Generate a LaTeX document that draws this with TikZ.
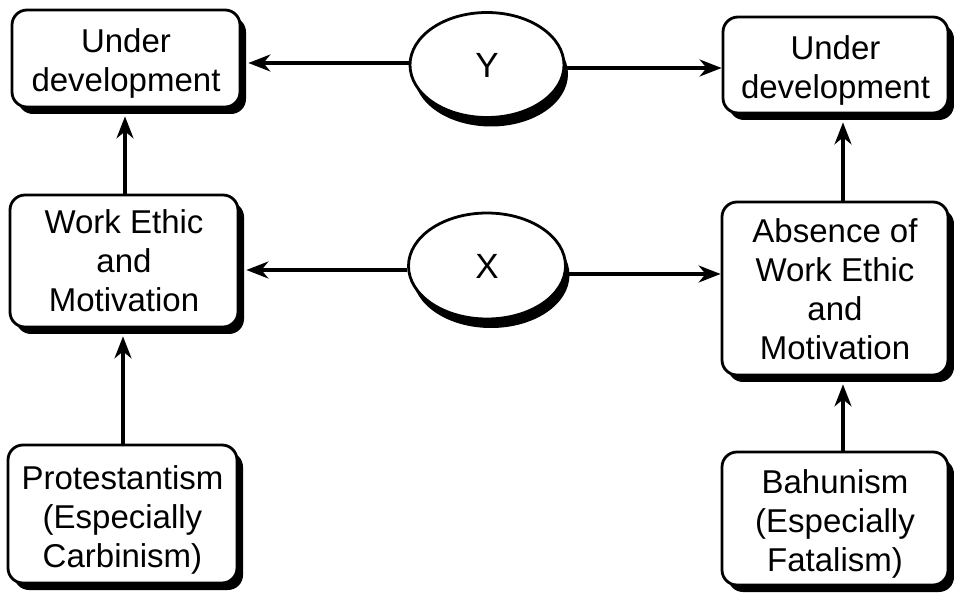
\documentclass[tikz,border=0pt]{standalone}
\usepackage{fontspec}
\setmainfont{Liberation Sans}
\usetikzlibrary{arrows.meta,shadows,shapes.geometric}
\newcommand{\lowtext}[2][6pt]{\raisebox{-#1}[\height][\depth]{\begin{tabular}{@{}c@{}}#2\end{tabular}}}
\begin{document}
\begin{tikzpicture}[x=1pt,y=-1pt,
  box/.style={draw=black,line width=2.8pt,fill=white,rounded corners=15pt,
    inner sep=0pt,align=center,font=\fontsize{33}{39}\selectfont,
    drop shadow={shadow xshift=6pt,shadow yshift=-7pt,fill=black,opacity=1}},
  oval/.style={ellipse,draw=black,line width=2.8pt,fill=white,inner sep=0pt,
    font=\fontsize{35}{40}\selectfont,
    drop shadow={shadow xshift=4pt,shadow yshift=-9pt,fill=black,opacity=1}},
  arr/.style={line width=3.2pt,-{Stealth[length=22pt,width=17pt,inset=7pt]}}]
\useasboundingbox (0,0) rectangle (954,593);
\node[box,minimum width=228pt,minimum height=97pt] (ul) at (126,58.5) {\lowtext{Under\\development}};
\node[box,minimum width=225pt,minimum height=96pt] (ur) at (835.5,65) {\lowtext{Under\\development}};
\node[box,minimum width=228pt,minimum height=132pt] (we) at (124,261) {\lowtext[4pt]{Work Ethic\\and\\Motivation}};
\node[box,minimum width=226pt,minimum height=173pt] (ab) at (835,288.5) {\lowtext[5pt]{Absence of\\Work Ethic\\and\\Motivation}};
\node[box,minimum width=229pt,minimum height=138pt] (pr) at (122.5,514) {\lowtext[7pt]{Protestantism\\(Especially\\Carbinism)}};
\node[box,minimum width=226pt,minimum height=133pt] (ba) at (835,518.5) {\lowtext[6pt]{Bahunism\\(Especially\\Fatalism)}};
\node[oval,minimum width=154pt,minimum height=105pt] (y) at (487,65) {Y};
\node[oval,minimum width=157pt,minimum height=106pt] (x) at (487,266) {X};
% horizontal arrows
\draw[arr,shorten >=7pt] (y.west |- 0,63) -- (ul.east |- 0,63);
\draw[arr] (y.east |- 0,68) -- (ur.west |- 0,68);
\draw[arr,shorten >=7pt] (x.west |- 0,270) -- (we.east |- 0,270);
\draw[arr] (x.east |- 0,274) -- (ab.west |- 0,274);
% vertical arrows
\draw[arr,shorten >=8pt] (we.north -| 125,0) -- (ul.south -| 125,0);
\draw[arr,shorten >=8pt] (pr.north -| 123,0) -- (we.south -| 123,0);
\draw[arr,shorten >=8pt] (ab.north -| 843,0) -- (ur.south -| 843,0);
\draw[arr,shorten >=8pt] (ba.north -| 843,0) -- (ab.south -| 843,0);
\end{tikzpicture}
\end{document}
